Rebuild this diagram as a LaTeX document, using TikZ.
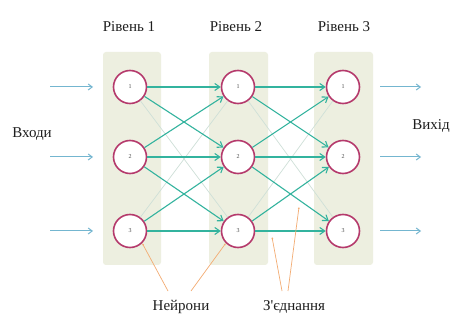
\documentclass[tikz,border=0pt]{standalone}
\usepackage{fontspec}
\setmainfont{Liberation Serif}
\usetikzlibrary{arrows.meta}
\definecolor{panelfill}{HTML}{EDEFE0}
\definecolor{ringcol}{HTML}{B53A6C}
\definecolor{linkcol}{HTML}{33B39E}
\definecolor{faintcol}{HTML}{CFE0D8}
\definecolor{iocol}{HTML}{74B6D0}
\definecolor{notecol}{HTML}{F3AC72}
\definecolor{txtcol}{HTML}{1E1E1E}
\tikzset{
  panel/.style={fill=panelfill, draw=none, rounded corners=3pt},
  neuron/.style={circle, draw=ringcol, line width=1.6pt, fill=white,
    minimum size=33pt, inner sep=0pt, font=\fontsize{6}{7}\selectfont, text=black!70},
  link/.style={draw=linkcol, line width=1.1pt, -{Straight Barb[length=5pt,width=7pt]}},
  faint/.style={draw=faintcol, line width=0.7pt},
  io/.style={draw=iocol, line width=1pt, -{Straight Barb[length=4pt,width=6pt]}},
  note/.style={draw=notecol, line width=0.7pt, -{Latex[length=2pt,width=2pt]}},
  lbl/.style={font=\fontsize{15}{17}\selectfont, text=txtcol, inner sep=0pt}
}
\begin{document}
\begin{tikzpicture}[x=1pt,y=-1pt]
\useasboundingbox (0,0) rectangle (455,320);
\fill[white] (0,0) rectangle (455,320);

% layer panels
\fill[panel] (103,52) rectangle (161,265);
\fill[panel] (209,52) rectangle (268,265);
\fill[panel] (314,52) rectangle (373,265);

% level titles
\node[lbl] (t1) at (129,27) {Рівень 1};
\node[lbl] (t2) at (236,27) {Рівень 2};
\node[lbl] (t3) at (344,27) {Рівень 3};

% neurons
\foreach \c/\x in {1/130,2/238,3/343}{
  \foreach \r/\y in {1/87,2/157,3/231}{
    \node[neuron] (n\c\r) at (\x,\y) {\r};
  }
}

% weak links between the outer rows
\foreach \a/\b in {1/2,2/3}{
  \draw[faint] (n\a1) -- (n\b3);
  \draw[faint] (n\a3) -- (n\b1);
}

% main links between adjacent layers
\foreach \a/\b in {1/2,2/3}{
  \foreach \i/\j in {1/1,1/2,2/1,2/2,2/3,3/2,3/3}{
    \draw[link] (n\a\i) -- (n\b\j);
  }
}

% inputs and outputs
\foreach \r/\y in {1/87,2/157,3/231}{
  \coordinate (in\r) at (50,\y);
  \coordinate (out\r) at (421,\y);
  \draw[io] (in\r) -- (n1\r.west -| 93,0);
  \draw[io] (n3\r.east -| 380,0) -- (out\r);
}

\node[lbl] (inputs) at (32,134) {Входи};
\node[lbl] (output) at (431,126) {Вихід};

% annotations
\node[lbl] (neur) at (181,307) {Нейрони};
\node[lbl] (conn) at (294,307) {З\textquotesingle єднання};
\coordinate (c1) at (272,237);
\coordinate (c2) at (299,207);
\draw[note] (168,291) -- (n13.-45);
\draw[note] (191,291) -- (n23.-135);
\draw[note] (282,291) -- (c1);
\draw[note] (288,291) -- (c2);
\end{tikzpicture}
\end{document}
